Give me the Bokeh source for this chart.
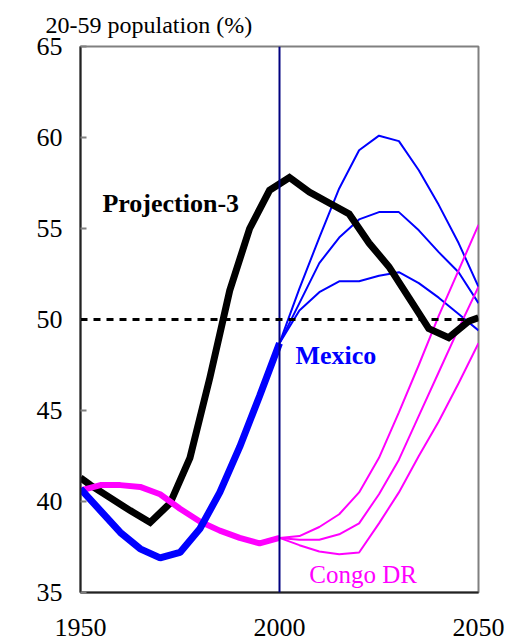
from bokeh.plotting import figure
from bokeh.models import Label, Span, FixedTicker
from bokeh.embed import file_html
from bokeh.resources import INLINE

# ---- data ----
hist_years = [1950, 1955, 1960, 1965, 1970, 1975, 1980, 1985, 1990, 1995, 2000]
mexico_hist = [40.7, 39.5, 38.3, 37.4, 36.9, 37.2, 38.5, 40.5, 43.0, 45.8, 48.7]
congo_hist = [40.6, 40.9, 40.9, 40.8, 40.4, 39.6, 38.9, 38.4, 38.0, 37.7, 38.0]

proj_years = [2000, 2005, 2010, 2015, 2020, 2025, 2030, 2035, 2040, 2045, 2050]
mexico_high = [48.7, 51.7, 54.5, 57.2, 59.3, 60.1, 59.8, 58.2, 56.3, 54.2, 51.8]
mexico_mid = [48.7, 50.9, 53.1, 54.5, 55.5, 55.9, 55.9, 54.9, 53.7, 52.6, 50.9]
mexico_low = [48.7, 50.5, 51.5, 52.1, 52.1, 52.4, 52.6, 52.0, 51.2, 50.3, 49.4]
congo_high = [38.0, 38.1, 38.6, 39.3, 40.5, 42.4, 44.9, 47.5, 50.2, 52.7, 55.2]
congo_mid = [38.0, 37.9, 37.9, 38.2, 38.8, 40.4, 42.3, 44.7, 47.1, 49.5, 51.8]
congo_low = [38.0, 37.6, 37.25, 37.1, 37.2, 38.8, 40.5, 42.5, 44.4, 46.5, 48.7]

proj3_years = [1950, 1952.5, 1957.5, 1962.5, 1967.5, 1972.5, 1977.5, 1982.5, 1987.5,
               1992.5, 1997.5, 2002.5, 2007.5, 2012.5, 2017.5, 2022.5, 2027.5,
               2032.5, 2037.5, 2042.5, 2047.5, 2050]
proj3_vals = [41.3, 40.9, 40.2, 39.5, 38.85, 39.9, 42.4, 46.8, 51.6,
              55.0, 57.1, 57.8, 57.0, 56.4, 55.8, 54.2, 52.9,
              51.2, 49.5, 49.0, 49.9, 50.1]

y_ticks = [35, 40, 45, 50, 55, 60, 65]
x_ticks = [1950, 2000, 2050]

FONT = "Liberation Serif"

p = figure(width=505, height=641, x_range=(1950, 2050), y_range=(35, 65),
           output_backend="svg", toolbar_location=None,
           min_border_left=80, min_border_right=27, min_border_top=46,
           min_border_bottom=49,
           title="20-59 population (%)")
p.grid.visible = False
p.outline_line_color = "#808080"
p.outline_line_width = 2

p.title.text_font = FONT
p.title.text_font_size = "24px"
p.title.text_font_style = "normal"
p.title.text_color = "black"
p.title.align = "left"
p.title.offset = -35
p.title.standoff = 18

p.yaxis.ticker = FixedTicker(ticks=y_ticks)
p.xaxis.ticker = FixedTicker(ticks=x_ticks)
p.axis.axis_line_color = "#222222"
p.axis.axis_line_width = 2
p.axis.minor_tick_line_color = None
p.axis.major_label_text_font = FONT
p.axis.major_label_text_font_size = "26px"
p.axis.major_label_text_color = "black"
p.yaxis.major_tick_line_color = "#808080"
p.yaxis.major_tick_line_width = 2
p.yaxis.major_tick_in = 6
p.yaxis.major_tick_out = 0
p.yaxis.major_label_standoff = 18
p.xaxis.major_tick_line_color = None
p.xaxis.major_label_standoff = 20

# reference lines
p.add_layout(Span(location=2000, dimension="height", line_color="#000080", line_width=2))
p.add_layout(Span(location=50, dimension="width", line_color="black", line_width=3,
                  line_dash="7 6"))

# projections (thin)
for ys in (mexico_high, mexico_mid, mexico_low):
    p.line(proj_years, ys, line_color="#0000FF", line_width=2)
for ys in (congo_high, congo_mid, congo_low):
    p.line(proj_years, ys, line_color="#FF00FF", line_width=2)

# thick lines
p.line(proj3_years, proj3_vals, line_color="black", line_width=7, line_join="miter")
p.line(hist_years, congo_hist, line_color="#FF00FF", line_width=6)
p.line(hist_years, mexico_hist, line_color="#0000FF", line_width=7)

# labels
p.add_layout(Label(x=1955.5, y=56.37, text="Projection-3", text_font=FONT,
                   text_font_size="26px", text_font_style="bold", text_color="black",
                   text_baseline="alphabetic"))
p.add_layout(Label(x=2004.0, y=48.0, text="Mexico", text_font=FONT,
                   text_font_size="26px", text_font_style="bold", text_color="#0000FF",
                   text_baseline="alphabetic"))
p.add_layout(Label(x=2007.5, y=36.0, text="Congo DR", text_font=FONT,
                   text_font_size="25px", text_color="#FF00FF",
                   text_baseline="alphabetic"))

open("out.html", "w").write(file_html(p, INLINE))
